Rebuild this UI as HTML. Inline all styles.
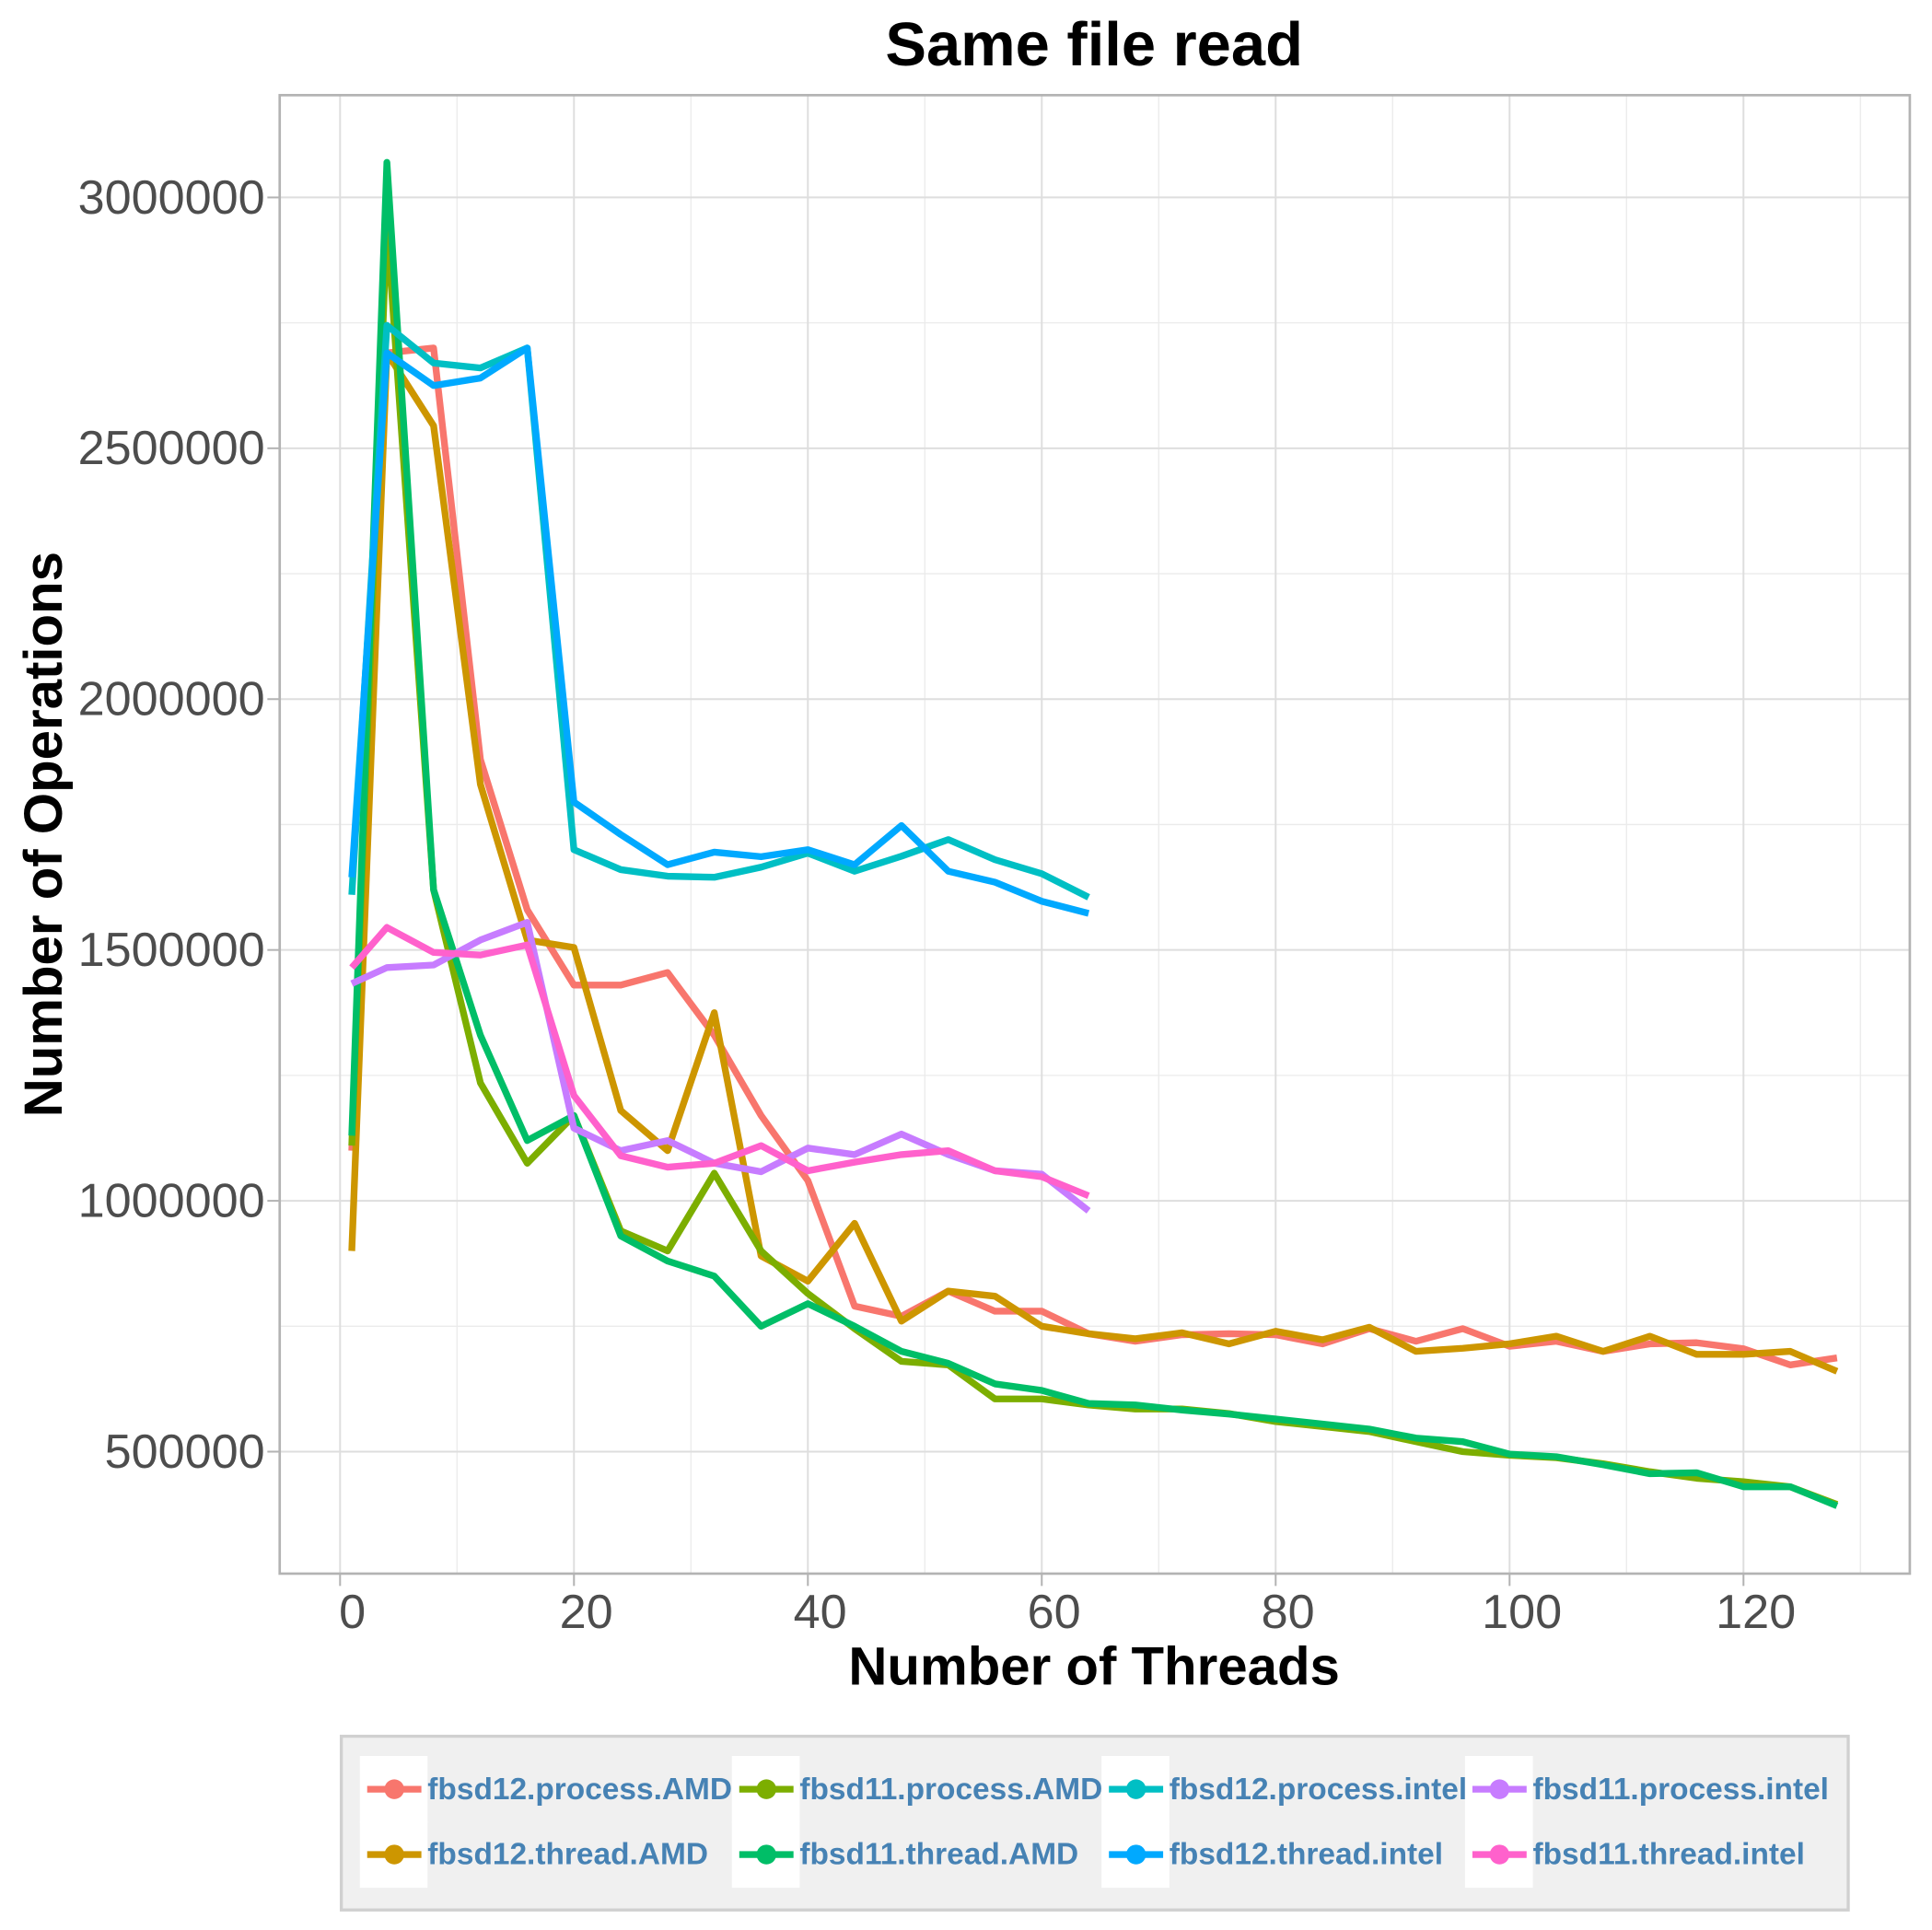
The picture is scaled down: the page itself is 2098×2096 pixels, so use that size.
<!DOCTYPE html>
<html><head><meta charset="utf-8"><style>html,body{margin:0;padding:0;background:#fff}svg{display:block}text{font-family:"Liberation Sans",sans-serif}</style></head>
<body>
<svg id="chart" width="2098" height="2096" viewBox="0 0 1568 1566" xmlns="http://www.w3.org/2000/svg">
<rect width="1568" height="1566" fill="#fff"/>
<text x="888" y="53" font-size="50" font-weight="bold" text-anchor="middle">Same file read</text>
<g id="grid"></g>
<g id="lines"></g>
<rect x="227" y="77" width="1323" height="1200" fill="none" stroke="#b3b3b3" stroke-width="2"/>
<g id="axes"></g>
<text x="888" y="1367" font-size="43.5" font-weight="bold" text-anchor="middle">Number of Threads</text>
<text transform="translate(50,677) rotate(-90)" font-size="43.5" font-weight="bold" text-anchor="middle">Number of Operations</text>
<g id="legend"></g>
</svg>
<script>
const threads = [1,4,8,12,16,20,24,28,32,36,40,44,48,52,56,60,64,68,72,76,80,84,88,92,96,100,104,108,112,116,120,124,128];
const seriesNames = ["fbsd12.process.AMD","fbsd12.thread.AMD","fbsd11.process.AMD","fbsd11.thread.AMD","fbsd12.process.intel","fbsd12.thread.intel","fbsd11.process.intel","fbsd11.thread.intel"];
const seriesColors = ["#F8766D","#CD9600","#7CAE00","#00BE67","#00BFC4","#00A9FF","#C77CFF","#FF61CC"];
const s12pAMD = [1100000,2690000,2700000,1880000,1580000,1430000,1430000,1455000,1330000,1170000,1040000,790000,770000,820000,780000,780000,735000,720000,733000,735000,733000,715000,745000,720000,745000,710000,720000,700000,715000,717000,705000,673000,687000];
const s12tAMD = [900000,2690000,2545000,1830000,1520000,1505000,1180000,1100000,1375000,890000,840000,955000,760000,820000,810000,750000,735000,725000,737000,715000,740000,723000,748000,700000,706000,715000,730000,700000,730000,694000,694000,700000,660000];
const s11pAMD = [1110000,2950000,1620000,1235000,1075000,1170000,940000,900000,1055000,900000,815000,745000,680000,673000,605000,605000,593000,585000,585000,576000,560000,550000,540000,520000,500000,493000,488000,476000,460000,447000,440000,430000,395000];
const s11tAMD = [1130000,3070000,1620000,1330000,1120000,1170000,930000,880000,850000,750000,795000,750000,700000,676000,635000,622000,596000,593000,583000,575000,565000,555000,545000,527000,520000,495000,490000,474000,456000,458000,430000,430000,392000];
const s12pIntel = [1610000,2745000,2670000,2660000,2700000,1700000,1660000,1647000,1645000,1665000,1693000,1657000,1687000,1720000,1680000,1652000,1605000];
const s12tIntel = [1645000,2690000,2625000,2640000,2700000,1795000,1730000,1670000,1695000,1686000,1700000,1670000,1748000,1657000,1635000,1597000,1573000];
const s11pIntel = [1433000,1465000,1470000,1520000,1555000,1145000,1100000,1120000,1075000,1058000,1105000,1092000,1133000,1092000,1060000,1053000,980000];
const s11tIntel = [1465000,1545000,1495000,1490000,1510000,1210000,1090000,1067000,1075000,1110000,1060000,1077000,1092000,1100000,1060000,1048000,1010000];
const xTicks = [0,20,40,60,80,100,120];
const xTickLabels = ["0","20","40","60","80","100","120"];
const yTicks = [500000,1000000,1500000,2000000,2500000,3000000];
const yTickLabels = ["500000","1000000","1500000","2000000","2500000","3000000"];

const NS="http://www.w3.org/2000/svg";
const xs = v => 276 + (v-0)*(1415-276)/120;
const ys = v => 160 + (3000000-v)*(1178-160)/2500000;
function mk(tag, attrs, parent){const e=document.createElementNS(NS,tag);for(const k in attrs)e.setAttribute(k,attrs[k]);parent.appendChild(e);return e;}
const grid=document.getElementById('grid'), axes=document.getElementById('axes'), lines=document.getElementById('lines'), legend=document.getElementById('legend');
for(let v=-10; v<=130; v+=20){const x=xs(v); if(x<228||x>1549) continue;
  const l=mk('line',{x1:x,x2:x,y1:77,y2:1277,stroke:'#ebebeb','stroke-width':1},grid);
  
  }
for(let v=250000; v<=3250000; v+=500000){const y=ys(v); if(y<78||y>1276) continue;
  const l=mk('line',{x1:227,x2:1550,y1:y,y2:y,stroke:'#ebebeb','stroke-width':1},grid);
  
  }
xTicks.forEach((v,i)=>{const x=xs(v);
  const l=mk('line',{x1:x,x2:x,y1:77,y2:1277,stroke:'#dedede','stroke-width':1.5},grid);
  
  
  const t=mk('line',{x1:x,x2:x,y1:1277,y2:1287,stroke:'#b3b3b3','stroke-width':1.5},axes);
  
  
  const tx=mk('text',{x:x+10,y:1321,'font-size':39,fill:'#4d4d4d','text-anchor':'middle'},axes);
  tx.textContent=xTickLabels[i];
  
  });
yTicks.forEach((v,i)=>{const y=ys(v);
  const l=mk('line',{x1:227,x2:1550,y1:y,y2:y,stroke:'#dedede','stroke-width':1.5},grid);
  
  
  const t=mk('line',{x1:217,x2:227,y1:y,y2:y,stroke:'#b3b3b3','stroke-width':1.5},axes);
  
  
  const tx=mk('text',{x:215,y:y+13,'font-size':39,fill:'#4d4d4d','text-anchor':'end'},axes);
  tx.textContent=yTickLabels[i];
  
  });
const seriesData=[s12pAMD,s12tAMD,s11pAMD,s11tAMD,s12pIntel,s12tIntel,s11pIntel,s11tIntel];
seriesData.forEach((arr,si)=>{
  const pts=arr.map((v,i)=>xs(threads[i]).toFixed(1)+','+ys(v).toFixed(1)).join(' ');
  const p=mk('polyline',{points:pts,fill:'none',stroke:seriesColors[si],'stroke-width':5.5,'stroke-linejoin':'round'},lines);
  
  
});
const lb=mk('rect',{x:277,y:1409,width:1223,height:141,fill:'#f0f0f0',stroke:'#d0d0d0','stroke-width':2.5},legend);


const colX=[292,594,894,1189];
const rowY=[1452,1505];
seriesNames.forEach((n,si)=>{
  const col=Math.floor(si/2), row=si%2;
  const kx=colX[col], ky=rowY[row];
  const g=mk('g',{},legend);
  
  
  mk('rect',{x:kx,y:ky-27,width:55,height:54,fill:'#fff'},g);
  mk('line',{x1:kx+6,x2:kx+50,y1:ky,y2:ky,stroke:seriesColors[si],'stroke-width':5.5},g);
  mk('circle',{cx:kx+28,cy:ky,r:8,fill:seriesColors[si]},g);
  const t=mk('text',{x:kx+55,y:ky+8,'font-size':25,'font-weight':'bold',fill:'#4682B4'},g);
  t.textContent=n;
});
</script>
</body></html>
